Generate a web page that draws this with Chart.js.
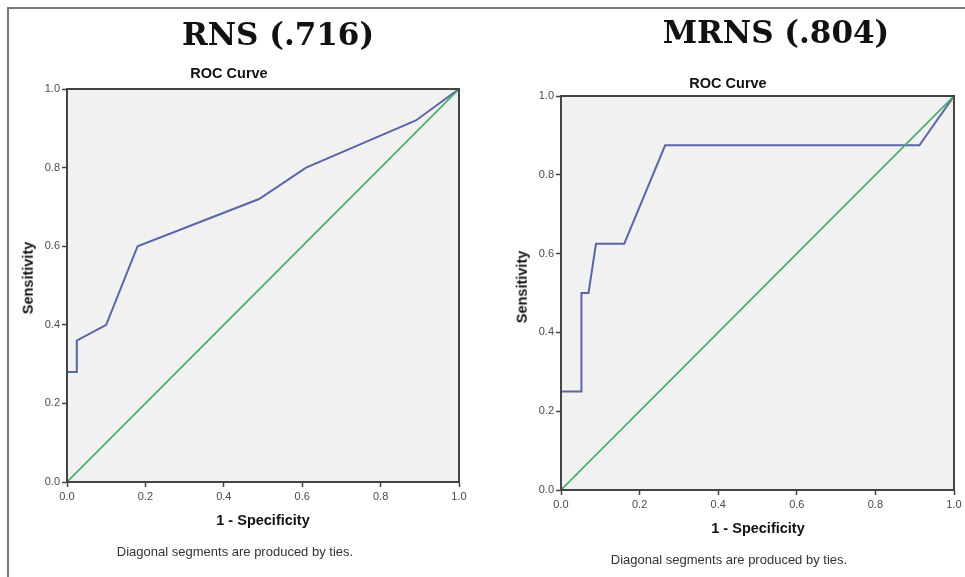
<!DOCTYPE html>
<html>
<head>
<meta charset="utf-8">
<script src="https://cdn.jsdelivr.net/npm/chart.js@4.4.1/dist/chart.umd.min.js"></script>
<style>
  html, body { margin:0; padding:0; background:#fff; }
  body { width:965px; height:577px; position:relative; overflow:hidden; font-family:"Liberation Sans", Arial, sans-serif; }
  .cv { position:absolute; top:0; }
  .txt { position:absolute; white-space:nowrap; line-height:1; }
  .big { font-family:"DejaVu Serif", serif; font-weight:bold; font-size:31px; color:#111; }
  .sub { font-weight:bold; font-size:14.5px; color:#111; }
  .ax { font-weight:bold; font-size:14.5px; color:#111; }
  .note { font-size:13px; color:#333; }
  .frameTop { position:absolute; left:8px; top:7px; width:957px; height:0; border-top:2px solid #777; }
  .frameLeft { position:absolute; left:7px; top:7px; width:0; height:570px; border-left:2px solid #777; }
</style>
</head>
<body>
<div class="frameTop"></div>
<div class="frameLeft"></div>

<canvas id="c1" class="cv" style="left:0px" width="482" height="577"></canvas>
<canvas id="c2" class="cv" style="left:482px" width="483" height="577"></canvas>

<div class="txt big" id="t1" style="left:278px; top:19px; transform:translateX(-50%)">RNS (.716)</div>
<div class="txt big" id="t2" style="left:776px; top:17px; transform:translateX(-50%)">MRNS (.804)</div>

<div class="txt sub" style="left:229px; top:66px; transform:translateX(-50%)">ROC Curve</div>
<div class="txt sub" style="left:728px; top:76px; transform:translateX(-50%)">ROC Curve</div>

<div class="txt ax" style="left:28px; top:278px; transform:translate(-50%,-50%) rotate(-90deg)">Sensitivity</div>
<div class="txt ax" style="left:522px; top:287px; transform:translate(-50%,-50%) rotate(-90deg)">Sensitivity</div>

<div class="txt ax" style="left:263px; top:513px; transform:translateX(-50%)">1 - Specificity</div>
<div class="txt ax" style="left:758px; top:521px; transform:translateX(-50%)">1 - Specificity</div>

<div class="txt note" style="left:235px; top:545px; transform:translateX(-50%)">Diagonal segments are produced by ties.</div>
<div class="txt note" style="left:729px; top:553px; transform:translateX(-50%)">Diagonal segments are produced by ties.</div>

<script>
// ---- data ----
const tickValues = [0, 0.2, 0.4, 0.6, 0.8, 1.0];

const rnsFpr  = [0, 0,    0.025, 0.025, 0.10, 0.18, 0.49, 0.61, 0.89, 1.0];
const rnsTpr  = [0, 0.28, 0.28,  0.36,  0.40, 0.60, 0.72, 0.80, 0.92, 1.0];

const mrnsFpr = [0, 0,    0.052, 0.052, 0.070, 0.089, 0.161, 0.265, 0.912, 1.0];
const mrnsTpr = [0, 0.25, 0.25,  0.50,  0.50,  0.625, 0.625, 0.875, 0.875, 1.0];

const refX = [0, 1];
const refY = [0, 1];

// ---- helpers ----
function pts(xs, ys) { return xs.map((x, i) => ({ x: x, y: ys[i] })); }

const plotBox = {
  id: 'plotBox',
  beforeDraw(chart) {
    const a = chart.chartArea, c = chart.ctx;
    c.save();
    c.fillStyle = '#f1f1f1';
    c.fillRect(a.left, a.top, a.right - a.left, a.bottom - a.top);
    c.restore();
  },
  afterDraw(chart) {
    const a = chart.chartArea, c = chart.ctx;
    c.save();
    c.strokeStyle = '#444';
    c.lineWidth = 2;
    c.strokeRect(a.left, a.top, a.right - a.left, a.bottom - a.top);
    c.restore();
  }
};

function makeChart(id, fpr, tpr, geom) {
  const ctx = document.getElementById(id);
  return new Chart(ctx, {
    type: 'scatter',
    data: {
      datasets: [
        { data: pts(refX, refY), showLine: true, borderColor: '#42ad66', borderWidth: 1.6, pointRadius: 0, fill: false, tension: 0 },
        { data: pts(fpr, tpr),   showLine: true, borderColor: '#5b66a6', borderWidth: 2,   pointRadius: 0, fill: false, tension: 0 }
      ]
    },
    options: {
      responsive: false,
      animation: false,
      events: [],
      layout: { padding: { top: geom.top, right: geom.right, left: 0, bottom: 0 } },
      plugins: { legend: { display: false }, tooltip: { enabled: false }, title: { display: false } },
      scales: {
        x: {
          type: 'linear', min: 0, max: 1,
          afterFit(s) { s.height = geom.xh; },
          afterBuildTicks(s) { s.ticks = tickValues.map(v => ({ value: v })); },
          grid: { drawOnChartArea: false, drawTicks: true, tickLength: 5, tickColor: '#444', tickWidth: 1.5 },
          border: { display: true, color: '#444', width: 2 },
          ticks: { color: '#4a4a4a', font: { family: 'Liberation Sans', size: 11 }, padding: 3,
                   maxRotation: 0, autoSkip: false, callback: v => Number(v).toFixed(1) }
        },
        y: {
          type: 'linear', min: 0, max: 1,
          afterFit(s) { s.width = geom.yw; },
          afterBuildTicks(s) { s.ticks = tickValues.map(v => ({ value: v })); },
          grid: { drawOnChartArea: false, drawTicks: true, tickLength: 5, tickColor: '#444', tickWidth: 1.5 },
          border: { display: true, color: '#444', width: 2 },
          ticks: { color: '#4a4a4a', font: { family: 'Liberation Sans', size: 11 }, padding: 2,
                   autoSkip: false, callback: v => Number(v).toFixed(1) }
        }
      }
    },
    plugins: [plotBox]
  });
}

// left: plot x 67-459, y 89-482 ; right: plot x 561-954 (canvas offset 482), y 96-490
makeChart('c1', rnsFpr, rnsTpr,   { top: 89, right: 482 - 459, xh: 577 - 482, yw: 67 });
makeChart('c2', mrnsFpr, mrnsTpr, { top: 96, right: 483 - 472, xh: 577 - 490, yw: 79 });
</script>
</body>
</html>
